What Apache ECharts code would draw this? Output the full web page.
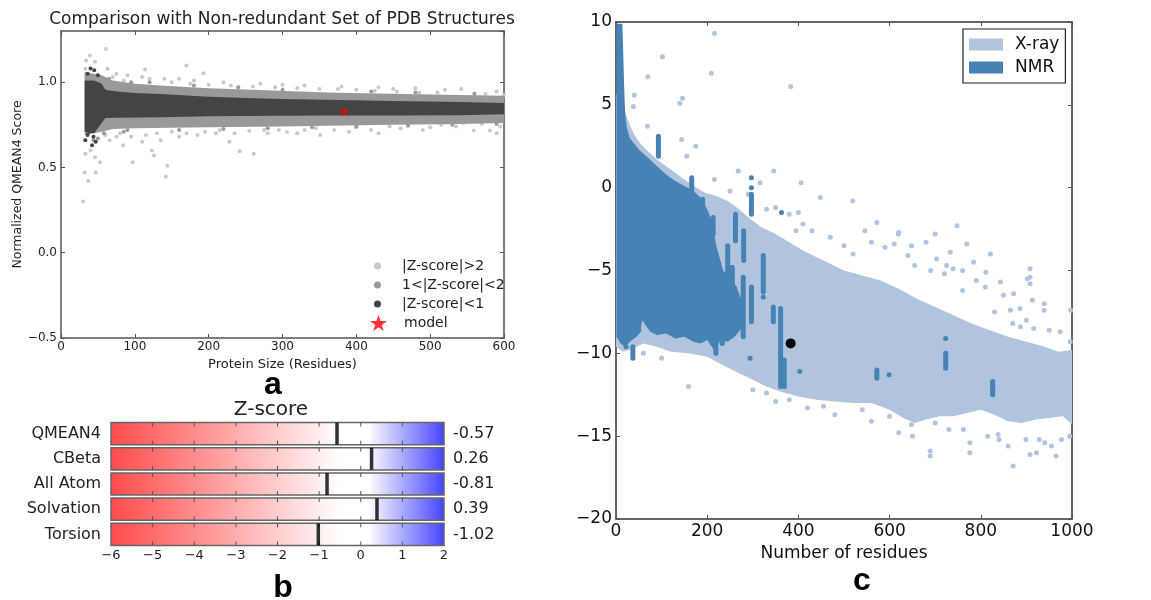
<!DOCTYPE html>
<html>
<head>
<meta charset="utf-8">
<script src="https://cdn.jsdelivr.net/npm/echarts@6/dist/echarts.min.js"></script>
<style>
  html, body { margin: 0; padding: 0; background: #fff; }
  #main { width: 1151px; height: 600px; }
</style>
</head>
<body>
<div id="main"></div>
<script>
// ---- panel a : QMEAN4 vs protein size ----
const lowZUpper = [[32, 1.01], [45, 1.01], [55, 0.99], [60, 0.955], [75, 0.945], [100, 0.937], [135, 0.93], [200, 0.915], [250, 0.907], [300, 0.902], [360, 0.897], [450, 0.89], [540, 0.883], [600, 0.878]]
const lowZLower = [[32, 0.71], [45, 0.70], [55, 0.76], [60, 0.79], [75, 0.792], [135, 0.795], [200, 0.8], [300, 0.803], [360, 0.805], [450, 0.805], [540, 0.806], [600, 0.812]]
const midZUpper = [[32, 1.06], [55, 1.04], [70, 1.01], [100, 0.99], [135, 0.98], [200, 0.965], [260, 0.955], [360, 0.94], [450, 0.932], [540, 0.925], [600, 0.92]]
const midZLower = [[32, 0.69], [55, 0.71], [70, 0.725], [100, 0.73], [200, 0.735], [300, 0.74], [360, 0.745], [450, 0.75], [540, 0.755], [600, 0.76]]
const highZPoints = [[30, 0.30], [37, 0.42], [32, 0.47], [47, 0.47], [53, 0.53], [46, 0.56], [33, 0.58], [40, 0.6], [97, 0.53], [144, 0.51], [142, 0.445], [126, 0.57], [123, 0.6], [242, 0.595], [261, 0.58], [228, 0.65], [61, 1.195], [39, 1.156], [34, 1.127], [46, 1.12], [170, 1.097], [114, 1.074], [63, 1.078], [193, 1.053], [33, 1.078], [40, 1.04], [84, 0.63], [66, 0.66], [75, 0.68], [110, 0.65], [135, 0.66], [160, 0.68], [185, 0.69], [210, 0.7], [280, 0.7], [306, 0.708], [330, 0.72], [351, 0.69], [390, 0.71], [420, 0.72], [460, 0.73], [500, 0.735], [535, 0.74], [559, 0.717], [581, 0.717], [590, 0.70], [542, 0.96], [480, 0.965], [430, 0.97], [380, 0.975], [330, 0.98], [270, 0.99], [220, 1.0], [180, 1.01], [140, 1.02], [90, 1.04], [75, 1.05], [110, 1.03], [160, 1.02], [300, 0.985], [450, 0.96], [590, 0.945], [520, 0.955], [70, 1.03], [85, 1.01], [120, 1.02], [150, 1.0], [175, 0.99], [200, 0.985], [230, 0.98], [260, 0.975], [290, 0.97], [320, 0.965], [350, 0.96], [375, 0.96], [400, 0.955], [425, 0.95], [455, 0.945], [485, 0.94], [510, 0.94], [560, 0.935], [575, 0.93], [600, 0.925], [60, 0.69], [80, 0.7], [95, 0.68], [115, 0.69], [130, 0.7], [150, 0.71], [170, 0.7], [195, 0.71], [215, 0.72], [235, 0.7], [255, 0.715], [275, 0.72], [295, 0.72], [320, 0.7], [345, 0.73], [370, 0.72], [400, 0.735], [430, 0.7], [445, 0.74], [470, 0.75], [490, 0.72], [515, 0.75], [545, 0.76], [570, 0.755], [595, 0.74]]
const midZPoints = [[35, 1.04], [42, 1.03], [50, 0.67], [44, 0.66], [58, 0.7], [85, 0.71], [65, 1.02], [95, 1.0], [120, 1.0], [180, 0.98], [240, 0.97], [300, 0.955], [420, 0.945], [480, 0.94], [560, 0.93], [90, 0.72], [160, 0.72], [220, 0.725], [280, 0.73], [340, 0.735], [400, 0.74], [470, 0.745], [530, 0.75], [590, 0.755]]
const lowZPoints = [[40, 1.08], [45, 1.07], [36, 1.05], [50, 1.04], [33, 0.66], [36, 0.69], [42, 0.63], [47, 0.65], [38, 0.71], [44, 0.68]]
const modelPoint = [[384, 0.828]]

// ---- panel b : Z-scores ----
const zCategories = ['QMEAN4', 'CBeta', 'All Atom', 'Solvation', 'Torsion']
const zScores = [-0.57, 0.26, -0.81, 0.39, -1.02]
const zMin = -6
const zMax = 2

// ---- panel c : X-ray / NMR ----
const xrayUpper = [[0, 5.6], [8, 5.8], [15, 5.2], [22, 4.4], [30, 3.8], [40, 3.2], [55, 2.6], [70, 2.2], [90, 1.7], [110, 1.3], [130, 0.9], [150, 0.5], [170, 0.1], [195, -0.3], [220, -0.5], [245, -0.8], [270, -1.3], [295, -1.9], [320, -2.4], [350, -2.8], [380, -3.3], [410, -3.8], [440, -4.2], [470, -4.6], [500, -5.0], [540, -5.3], [580, -5.6], [620, -6.1], [660, -6.7], [700, -7.2], [740, -7.7], [780, -8.2], [820, -8.6], [860, -9.0], [900, -9.3], [940, -9.6], [970, -9.9], [1000, -9.8]]
const xrayLower = [[0, -9.6], [15, -9.9], [30, -9.8], [60, -9.4], [90, -9.6], [120, -9.9], [160, -10.0], [200, -10.2], [240, -10.8], [270, -11.2], [300, -11.6], [330, -12.0], [360, -12.3], [400, -12.6], [440, -12.8], [480, -12.9], [520, -13.0], [560, -13.0], [600, -13.4], [630, -13.9], [655, -14.2], [680, -14.0], [710, -13.8], [740, -13.8], [770, -13.6], [800, -13.4], [830, -13.7], [860, -14.1], [890, -14.2], [920, -14.0], [950, -13.9], [980, -13.8], [1000, -14.3]]
const xrayPoints = [[216, 9.3], [102, 7.9], [209, 6.9], [383, 6.1], [70, 6.7], [146, 5.4], [140, 5.1], [40, 5.6], [38, 4.9], [69, 3.7], [144, 2.9], [175, 2.5], [155, 1.9], [268, 1.0], [346, 1.0], [216, 0.5], [316, 0.3], [406, 0.3], [519, -0.8], [448, -0.6], [572, -2.1], [620, -2.7], [748, -2.3], [680, -3.3], [733, -3.9], [703, -4.3], [655, -4.7], [546, -2.6], [560, -3.3], [590, -3.6], [610, -3.4], [640, -4.1], [690, -5.0], [720, -5.2], [760, -5.0], [790, -5.6], [810, -6.0], [850, -6.5], [908, -4.9], [908, -5.4], [908, -5.8], [939, -7.0], [886, -7.3], [974, -8.7], [996, -9.3], [760, -6.2], [830, -7.5], [870, -8.2], [900, -8.0], [950, -8.6], [689, -15.9], [689, -16.2], [871, -16.8], [908, -16.1], [922, -16.0], [977, -15.2], [995, -15.0], [860, -15.6], [840, -15.2], [815, -15.0], [940, -15.4], [650, -15.0], [620, -14.8], [159, -12.0], [480, -13.7], [560, -14.1], [100, -10.3], [60, -10.0], [300, -12.2], [350, -12.9], [420, -13.3], [730, -14.6], [250, -0.2], [290, -0.4], [330, -1.3], [350, -1.2], [380, -1.6], [400, -1.5], [410, -2.2], [395, -2.6], [430, -2.6], [470, -3.0], [500, -3.5], [520, -4.0], [619, -2.8], [700, -2.8], [648, -3.5], [725, -4.7], [784, -4.5], [821, -4.0], [843, -5.7], [872, -6.4], [902, -5.5], [913, -6.8], [939, -7.4], [997, -7.4], [769, -3.4], [739, -4.9], [811, -5.1], [865, -7.4], [887, -8.4], [916, -8.5], [776, -15.4], [776, -16.0], [838, -14.9], [899, -15.2], [928, -15.2], [955, -15.6], [965, -16.2], [648, -14.3], [762, -14.6], [700, -14.2], [600, -13.8], [540, -13.4], [455, -13.2], [380, -12.8], [330, -12.4]]
const nmrUpper = [[1, 9.9], [14, 9.9], [16, 8.0], [18, 6.0], [20, 4.5], [24, 3.6], [30, 3.0], [50, 2.3], [70, 1.8], [90, 1.3], [110, 0.8], [130, 0.4], [150, 0.1], [170, -0.2], [185, -0.6], [200, -1.3], [210, -2.0], [220, -3.5], [235, -5.0], [250, -5.5], [265, -6.0], [275, -6.8]]
const nmrLower = [[1, -9.0], [10, -9.4], [20, -9.6], [30, -9.3], [45, -9.0], [52, -8.8], [58, -8.0], [65, -8.3], [75, -8.7], [90, -8.9], [110, -8.8], [130, -9.1], [150, -9.0], [170, -9.3], [185, -9.4], [200, -9.2], [215, -9.8], [230, -9.2], [245, -9.3], [260, -9.0], [275, -8.5]]
const nmrStreaks = [[93, 1.9, 3.1], [166, -0.8, 0.6], [190, -1.6, -0.7], [213, -2.8, -1.8], [262, -3.2, -1.6], [297, -1.6, -0.4], [280, -4.4, -2.6], [323, -6.3, -4.1], [297, -8.1, -6.0], [279, -9.0, -5.4], [219, -10.0, -8.2], [345, -8.1, -7.2], [361, -12.0, -7.3], [369, -12.0, -10.4], [572, -11.5, -11.0], [723, -10.9, -10.0], [826, -12.5, -11.7], [37, -10.3, -9.6], [245, -7.0, -3.5], [255, -8.5, -4.8], [233, -9.4, -6.0]]
const nmrPoints = [[297, 0.6], [297, 0.0], [363, -1.5], [294, -10.3], [403, -11.1], [599, -11.3], [723, -9.1], [22, -9.6], [50, -8.6], [323, -6.6]]
const queryPoint = [[383, -9.4]]

const starPath = 'path://M50,0 L61.8,35.1 L98.8,35.1 L68.9,56.9 L80.2,91.9 L50,70.2 L19.8,91.9 L31.1,56.9 L1.2,35.1 L38.2,35.1 Z'
const minus = (s) => String(s).replace('-', '\u2212')

function polySeries(name, upper, lower, color, xi, yi, z) {
  const pts = upper.concat(lower.slice().reverse())
  return {
    type: 'custom',
    name: name,
    xAxisIndex: xi,
    yAxisIndex: yi,
    z: z,
    silent: true,
    itemStyle: { color: color },
    data: [pts[0]],
    renderItem: function (params, api) {
      return {
        type: 'polygon',
        shape: { points: pts.map((p) => api.coord(p)) },
        style: { fill: color },
      }
    },
  }
}

function dotSeries(name, data, color, size, xi, yi, z) {
  return {
    type: 'scatter',
    name: name,
    xAxisIndex: xi,
    yAxisIndex: yi,
    z: z,
    silent: true,
    symbolSize: size,
    itemStyle: { color: color, opacity: 1 },
    data: data,
  }
}

const axisCol = '#555'
function boxAxis(extra) {
  return Object.assign({
    type: 'value',
    axisLine: { show: true, onZero: false, lineStyle: { color: axisCol, width: 1.5 } },
    axisTick: { show: true, inside: true, length: 4, lineStyle: { color: axisCol } },
    splitLine: { show: false },
  }, extra)
}

const chart = echarts.init(document.getElementById('main'))

const option = {
  animation: false,
  textStyle: { fontFamily: 'DejaVu Sans' },
  grid: [
    { left: 61, top: 31, width: 443, height: 307 },
    { left: 111, top: 421, width: 333, height: 126 },
    { left: 616, top: 22, width: 456, height: 497 },
  ],
  graphic: [
    { type: 'text', x: 282, y: 20, style: { text: 'Comparison with Non-redundant Set of PDB Structures', font: '17px "DejaVu Sans"', fill: '#222', align: 'center', verticalAlign: 'middle' } },
    { type: 'text', x: 271, y: 410, style: { text: 'Z-score', font: '20px "DejaVu Sans"', fill: '#222', align: 'center', verticalAlign: 'middle' } },
    { type: 'text', x: 273, y: 385, style: { text: 'a', font: 'bold 32px "Liberation Sans"', fill: '#000', align: 'center', verticalAlign: 'middle' } },
    { type: 'text', x: 283, y: 588, style: { text: 'b', font: 'bold 32px "Liberation Sans"', fill: '#000', align: 'center', verticalAlign: 'middle' } },
    { type: 'text', x: 862, y: 581, style: { text: 'c', font: 'bold 32px "Liberation Sans"', fill: '#000', align: 'center', verticalAlign: 'middle' } },
  ],
  legend: [
    {
      orient: 'vertical', left: 369, top: 254, itemWidth: 7, itemHeight: 7, itemGap: 5,
      icon: 'circle', selectedMode: false,
      textStyle: { fontSize: 14, color: '#222', lineHeight: 14, padding: [0, 0, 0, 16] },
      data: [
        { name: '|Z-score|>2', itemStyle: { color: '#c8c8c8' } },
        { name: '1<|Z-score|<2', itemStyle: { color: '#999' } },
        { name: '|Z-score|<1', itemStyle: { color: '#444' } },
      ],
    },
    {
      orient: 'vertical', left: 365, top: 310, itemWidth: 17, itemHeight: 16, selectedMode: false,
      textStyle: { fontSize: 14, color: '#222', padding: [0, 0, 0, 12] },
      data: [{ name: 'model', icon: starPath, itemStyle: { color: '#ff0000' } }],
    },
    {
      orient: 'vertical', left: 963, top: 29, itemWidth: 34, itemHeight: 12, itemGap: 6,
      icon: 'rect', selectedMode: false,
      backgroundColor: '#fff', borderColor: '#222', borderWidth: 1.2, borderRadius: 0,
      padding: [7, 6, 7, 6],
      textStyle: { fontSize: 17, color: '#111', lineHeight: 17, padding: [0, 0, 0, 7] },
      data: [
        { name: 'X-ray', itemStyle: { color: '#b0c4de' } },
        { name: 'NMR', itemStyle: { color: '#4682b4' } },
      ],
    },
  ],
  xAxis: [
    boxAxis({
      gridIndex: 0, min: 0, max: 600, interval: 100,
      axisLabel: { fontSize: 12, color: '#222', margin: 3 },
      name: 'Protein Size (Residues)', nameLocation: 'middle', nameGap: 14,
      nameTextStyle: { fontSize: 13, color: '#222' },
    }),
    boxAxis({ gridIndex: 0, position: 'top', min: 0, max: 600, interval: 100, axisLabel: { show: false } }),
    {
      type: 'value', gridIndex: 1, min: zMin, max: zMax, interval: 1,
      axisLine: { show: false }, axisTick: { show: false }, splitLine: { show: false },
      axisLabel: { fontSize: 13, color: '#222', margin: 2, formatter: minus },
    },
    boxAxis({
      gridIndex: 2, min: 0, max: 1000, interval: 200,
      axisLine: { show: true, onZero: false, lineStyle: { color: '#333', width: 1.5 } },
      axisLabel: { fontSize: 17, color: '#111', margin: 4, formatter: (v) => String(v) },
      name: 'Number of residues', nameLocation: 'middle', nameGap: 22,
      nameTextStyle: { fontSize: 17, color: '#111' },
    }),
    boxAxis({
      gridIndex: 2, position: 'top', min: 0, max: 1000, interval: 200, axisLabel: { show: false },
      axisLine: { show: true, onZero: false, lineStyle: { color: '#333', width: 1.5 } },
    }),
  ],
  yAxis: [
    boxAxis({
      gridIndex: 0, min: -0.5, max: 1.3, interval: 0.5,
      axisLabel: { fontSize: 12, color: '#222', margin: 4, showMaxLabel: false, formatter: (v) => minus(v.toFixed(1)) },
      name: 'Normalized QMEAN4 Score', nameLocation: 'middle', nameGap: 37,
      nameTextStyle: { fontSize: 12.5, color: '#222' },
    }),
    boxAxis({ gridIndex: 0, position: 'right', min: -0.5, max: 1.3, interval: 0.5, axisLabel: { show: false } }),
    {
      type: 'category', gridIndex: 1, inverse: true, data: zCategories,
      axisLine: { show: false }, axisTick: { show: false },
      axisLabel: { fontSize: 16, color: '#222', margin: 10 },
    },
    {
      type: 'category', gridIndex: 1, inverse: true, position: 'right',
      data: zScores.map((v) => v.toFixed(2)),
      axisLine: { show: false }, axisTick: { show: false },
      axisLabel: { fontSize: 16, color: '#222', margin: 9 },
    },
    boxAxis({
      gridIndex: 2, min: -20, max: 10, interval: 5,
      axisLine: { show: true, onZero: false, lineStyle: { color: '#333', width: 1.5 } },
      axisLabel: { fontSize: 17, color: '#111', margin: 4, formatter: minus },
    }),
    boxAxis({
      gridIndex: 2, position: 'right', min: -20, max: 10, interval: 5, axisLabel: { show: false },
      axisLine: { show: true, onZero: false, lineStyle: { color: '#333', width: 1.5 } },
    }),
  ],
  series: [
    // panel a
    dotSeries('|Z-score|>2', highZPoints, '#c8c8c8', 4, 0, 0, 2),
    polySeries('1<|Z-score|<2', midZUpper, midZLower, '#999', 0, 0, 3),
    dotSeries('mid pts', midZPoints, '#999', 4, 0, 0, 3),
    polySeries('|Z-score|<1', lowZUpper, lowZLower, '#444', 0, 0, 4),
    dotSeries('low pts', lowZPoints, '#444', 4, 0, 0, 4),
    {
      type: 'scatter', name: 'model', xAxisIndex: 0, yAxisIndex: 0, z: 6,
      symbol: starPath, symbolSize: 10, itemStyle: { color: '#ff0000' }, data: modelPoint,
    },
    // panel b
    {
      type: 'custom', name: 'zbox', xAxisIndex: 2, yAxisIndex: 2, z: 2, silent: true,
      data: zCategories.map((c, i) => [zMin, i]),
      renderItem: function (params, api) {
        const idx = api.value(1)
        const p0 = api.coord([zMin, idx])
        const p1 = api.coord([zMax, idx])
        const h = api.size([0, 1])[1] * 0.88
        const top = p0[1] - h / 2
        const children = [{
          type: 'rect',
          shape: { x: p0[0], y: top, width: p1[0] - p0[0], height: h },
          style: {
            fill: new echarts.graphic.LinearGradient(0, 0, 1, 0, [
              { offset: 0, color: '#ff4a4a' },
              { offset: 0.69, color: '#ffffff' },
              { offset: 0.77, color: '#ffffff' },
              { offset: 1, color: '#4444ff' },
            ]),
            stroke: '#666', lineWidth: 1.5,
          },
        }]
        for (let t = zMin + 1; t < zMax; t++) {
          const x = api.coord([t, idx])[0]
          children.push({ type: 'line', shape: { x1: x, y1: top, x2: x, y2: top + 4 }, style: { stroke: '#555', lineWidth: 1 } })
          children.push({ type: 'line', shape: { x1: x, y1: top + h, x2: x, y2: top + h - 4 }, style: { stroke: '#555', lineWidth: 1 } })
        }
        return { type: 'group', children: children }
      },
    },
    {
      type: 'scatter', name: 'zmark', xAxisIndex: 2, yAxisIndex: 2, z: 4, silent: true,
      symbol: 'rect', symbolSize: [3.5, 22], itemStyle: { color: '#000' },
      data: zScores.map((v, i) => [v, i]),
    },
    // panel c
    polySeries('X-ray', xrayUpper, xrayLower, '#b0c4de', 3, 4, 2),
    dotSeries('xray pts', xrayPoints, '#b0c4de', 5, 3, 4, 2),
    polySeries('NMR', nmrUpper, nmrLower, '#4682b4', 3, 4, 3),
    {
      type: 'custom', name: 'nmr streaks', xAxisIndex: 3, yAxisIndex: 4, z: 3, silent: true,
      data: nmrStreaks,
      renderItem: function (params, api) {
        const a = api.coord([api.value(0), api.value(1)])
        const b = api.coord([api.value(0), api.value(2)])
        return {
          type: 'line',
          shape: { x1: a[0], y1: a[1], x2: b[0], y2: b[1] },
          style: { stroke: '#4682b4', lineWidth: 5, lineCap: 'round' },
        }
      },
    },
    dotSeries('nmr pts', nmrPoints, '#4682b4', 5, 3, 4, 3),
    dotSeries('query', queryPoint, '#000', 10, 3, 4, 5),
  ],
}

chart.setOption(option)
window.addEventListener('resize', () => {
  chart.resize()
})
</script>
</body>
</html>
